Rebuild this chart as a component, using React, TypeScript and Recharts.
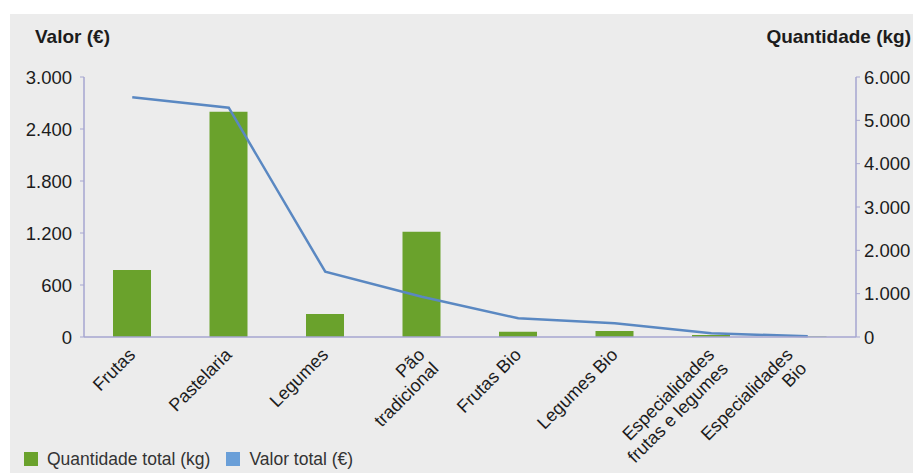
import React from 'react';
import { ComposedChart, Bar, Line, XAxis, YAxis, Legend, Label } from 'recharts';

const categories = [
  'Frutas',
  'Pastelaria',
  'Legumes',
  'Pão\ntradicional',
  'Frutas Bio',
  'Legumes Bio',
  'Especialidades\nfrutas e legumes',
  'Especialidades\nBio',
];
const quantidadeKg = [1546, 5200, 531, 2430, 122, 138, 45, 10];
const valorEur = [2766, 2646, 753, 465, 216, 158, 43, 8];
const valorTicks = [0, 600, 1200, 1800, 2400, 3000];
const quantidadeTicks = [0, 1000, 2000, 3000, 4000, 5000, 6000];

const data = categories.map((name, i) => ({
  name,
  quantidade: quantidadeKg[i],
  valor: valorEur[i],
}));

const FONT = '"Liberation Sans", Arial, Helvetica, sans-serif';
const GREEN = '#6aa22c';
const LINE_BLUE = '#5a88c2';
const LEGEND_BLUE = '#6a9fd8';
const AXIS = '#a6a6d0';
const TEXT = '#1c1c1c';

const fmt = (n: number) => String(n).replace(/\B(?=(\d{3})+(?!\d))/g, '.');

const XTick = (props: any) => {
  const { x, y, payload, index } = props;
  const lines = String(payload.value).split('\n');
  const shift = index === categories.length - 1 ? -18 : 0;
  return (
    <g transform={`translate(${x + 4 + shift},${y + 19})`}>
      <text transform="rotate(-45)" textAnchor="end" fontSize={18} fill={TEXT} fontFamily={FONT}>
        {lines.map((l, i) => (
          <tspan key={i} x={0} dy={i === 0 ? 0 : 19.5}>
            {l}
          </tspan>
        ))}
      </text>
    </g>
  );
};

const legendColors: Record<string, string> = { quantidade: GREEN, valor: LEGEND_BLUE };

const LegendContent = (props: any) => {
  const payload = props.payload || [];
  return (
    <div style={{ display: 'flex', alignItems: 'center', fontFamily: FONT, fontSize: 17.5, color: '#333', lineHeight: '18px', whiteSpace: 'nowrap' }}>
      {payload.map((p: any, i: number) => (
        <div key={i} style={{ display: 'flex', alignItems: 'center', marginRight: 16 }}>
          <span style={{ display: 'inline-block', width: 14, height: 14, background: legendColors[p.dataKey] || p.color, marginRight: 9 }} />
          <span>{p.value}</span>
        </div>
      ))}
    </div>
  );
};

export default function App() {
  return (
    <div style={{ position: 'absolute', left: 0, top: 0, width: 913, height: 473, background: '#ffffff' }}>
      <div style={{ position: 'absolute', left: 10, top: 14, width: 903, height: 459, background: '#ececec' }} />
      <div style={{ position: 'absolute', left: 0, top: 0 }}>
        <ComposedChart width={913} height={473} data={data} margin={{ top: 77, right: 0, bottom: 0, left: 10 }}>
          <XAxis
            dataKey="name"
            height={136}
            interval={0}
            tick={<XTick />}
            tickLine={false}
            tickSize={0}
            tickMargin={0}
            axisLine={{ stroke: AXIS, strokeWidth: 1.5 }}
          />
          <YAxis
            yAxisId="left"
            orientation="left"
            width={74}
            domain={[0, 3000]}
            ticks={valorTicks}
            tickFormatter={fmt}
            axisLine={{ stroke: AXIS, strokeWidth: 1.5 }}
            tickLine={{ stroke: AXIS }}
            tickSize={4}
            tickMargin={8}
            tick={{ fill: TEXT, fontSize: 18.5, fontFamily: FONT }}
          >
            <Label
              content={(p: any) => (
                <text x={p.viewBox.x + 25} y={p.viewBox.y - 34} fontSize={19} fontWeight="bold" fill={TEXT} fontFamily={FONT}>
                  Valor (€)
                </text>
              )}
            />
          </YAxis>
          <YAxis
            yAxisId="right"
            orientation="right"
            width={57}
            domain={[0, 6000]}
            ticks={quantidadeTicks}
            tickFormatter={fmt}
            axisLine={{ stroke: AXIS, strokeWidth: 1.5 }}
            tickLine={{ stroke: AXIS }}
            tickSize={4}
            tickMargin={4}
            tick={{ fill: TEXT, fontSize: 18.5, fontFamily: FONT, textAnchor: 'start' }}
          >
            <Label
              content={(p: any) => (
                <text x={p.viewBox.x + p.viewBox.width - 2} y={p.viewBox.y - 34} textAnchor="end" fontSize={19} fontWeight="bold" fill={TEXT} fontFamily={FONT}>
                  Quantidade (kg)
                </text>
              )}
            />
          </YAxis>
          <Bar yAxisId="right" dataKey="quantidade" name="Quantidade total (kg)" fill={GREEN} barSize={38} isAnimationActive={false} />
          <Line yAxisId="left" dataKey="valor" name="Valor total (€)" stroke={LINE_BLUE} strokeWidth={2.5} dot={false} type="linear" isAnimationActive={false} />
          <Legend
            layout="horizontal"
            verticalAlign="middle"
            align="center"
            content={<LegendContent />}
            wrapperStyle={{ left: 24, top: 450, width: 'auto', height: 'auto' }}
          />
        </ComposedChart>
      </div>
    </div>
  );
}
